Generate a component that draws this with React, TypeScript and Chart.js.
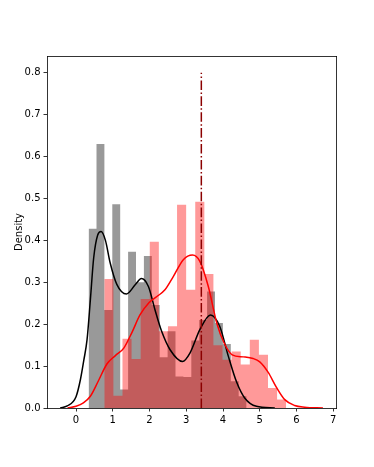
import React, { useEffect, useRef } from 'react';
import { Chart, registerables } from 'chart.js';

Chart.register(...registerables);

// Histogram of the first sample (black, alpha 0.4): bin edges and densities
const grayEdges = [0.342, 0.557, 0.772, 0.987, 1.202, 1.417, 1.632, 1.847, 2.062, 2.277, 2.492, 2.707, 2.922, 3.137, 3.352, 3.567, 3.782, 3.997, 4.212, 4.427, 4.642];
const grayHeights = [0.428, 0.63, 0.234, 0.486, 0.044, 0.373, 0.3, 0.363, 0.246, 0.121, 0.183, 0.075, 0.074, 0.161, 0.21, 0.278, 0.203, 0.153, 0.064, 0.028];

// Histogram of the second sample (red, alpha 0.4)
const redEdges = [0.769, 1.017, 1.264, 1.512, 1.759, 2.007, 2.254, 2.502, 2.749, 2.997, 3.244, 3.492, 3.739, 3.987, 4.234, 4.482, 4.729, 4.977, 5.224, 5.472, 5.719];
const redHeights = [0.308, 0.029, 0.165, 0.117, 0.26, 0.397, 0.183, 0.195, 0.485, 0.282, 0.492, 0.32, 0.15, 0.115, 0.135, 0.104, 0.163, 0.127, 0.048, 0.02];

// KDE curves
const blackKdeX = [-0.43, -0.24, 0, 0.12, 0.21, 0.3, 0.39, 0.48, 0.59, 0.68, 0.8, 0.93, 1.11, 1.37, 1.61, 1.78, 1.97, 2.15, 2.33, 2.56, 2.9, 3.1, 3.37, 3.66, 3.91, 4.14, 4.37, 4.59, 4.91, 5.41];
const blackKdeY = [0, 0.005, 0.027, 0.068, 0.113, 0.163, 0.258, 0.358, 0.413, 0.421, 0.4, 0.346, 0.295, 0.272, 0.294, 0.309, 0.29, 0.234, 0.183, 0.139, 0.111, 0.131, 0.187, 0.222, 0.195, 0.125, 0.062, 0.024, 0.004, 0];

const redKdeX = [-0.23, 0, 0.2, 0.39, 0.61, 0.84, 1.07, 1.3, 1.52, 1.74, 1.99, 2.2, 2.42, 2.65, 2.92, 3.17, 3.37, 3.6, 3.83, 4.03, 4.25, 4.55, 4.82, 5.0, 5.23, 5.45, 5.68, 5.95, 6.22, 6.72];
const redKdeY = [0, 0.004, 0.012, 0.028, 0.065, 0.105, 0.125, 0.143, 0.18, 0.222, 0.252, 0.266, 0.282, 0.314, 0.354, 0.365, 0.35, 0.29, 0.203, 0.155, 0.127, 0.122, 0.118, 0.11, 0.085, 0.05, 0.02, 0.006, 0.002, 0];

// Vertical marker line
const markerX = 3.41;
const markerBottom = 0;
const markerTop = 0.8;

// Axes
const xTicks = [0, 1, 2, 3, 4, 5, 6, 7];
const yTicks = [0, 0.1, 0.2, 0.3, 0.4, 0.5, 0.6, 0.7, 0.8];
const xMin = -0.79;
const xMax = 7.075;
const yMin = 0;
const yMax = 0.84;
const yLabel = 'Density';

function histPoints(edges: number[], heights: number[]) {
  const pts = heights.map((h, i) => ({ x: edges[i], y: h }));
  pts.push({ x: edges[edges.length - 1], y: heights[heights.length - 1] });
  return pts;
}

function zip(xs: number[], ys: number[]) {
  return xs.map((x, i) => ({ x, y: ys[i] }));
}

export default function App() {
  const ref = useRef<HTMLCanvasElement | null>(null);

  useEffect(() => {
    if (!ref.current) return;
    const font = { family: 'DejaVu Sans', size: 10 };
    const chart = new Chart(ref.current, {
      type: 'line',
      data: {
        datasets: [
          {
            label: 'hist1',
            data: histPoints(grayEdges, grayHeights),
            stepped: true,
            fill: 'origin',
            backgroundColor: 'rgba(0,0,0,0.4)',
            borderColor: 'rgba(0,0,0,0)',
            borderWidth: 0,
            pointRadius: 0,
            order: 5,
          },
          {
            label: 'hist2',
            data: histPoints(redEdges, redHeights),
            stepped: true,
            fill: 'origin',
            backgroundColor: 'rgba(255,0,0,0.4)',
            borderColor: 'rgba(0,0,0,0)',
            borderWidth: 0,
            pointRadius: 0,
            order: 4,
          },
          {
            label: 'kde1',
            data: zip(blackKdeX, blackKdeY),
            borderColor: '#000000',
            borderWidth: 1.5,
            pointRadius: 0,
            fill: false,
            cubicInterpolationMode: 'monotone',
            order: 3,
          },
          {
            label: 'kde2',
            data: zip(redKdeX, redKdeY),
            borderColor: '#ff0000',
            borderWidth: 1.5,
            pointRadius: 0,
            fill: false,
            cubicInterpolationMode: 'monotone',
            order: 2,
          },
          {
            label: 'marker',
            data: [
              { x: markerX, y: markerBottom },
              { x: markerX, y: markerTop },
            ],
            borderColor: '#8b0000',
            borderWidth: 1.5,
            borderDash: [9.6, 2.4, 1.5, 2.4],
            pointRadius: 0,
            fill: false,
            order: 1,
          },
        ],
      },
      options: {
        animation: false,
        responsive: false,
        devicePixelRatio: 1,
        events: [],
        layout: { padding: { left: 0, top: 56, right: 38, bottom: 29 } },
        plugins: {
          legend: { display: false },
          tooltip: { enabled: false },
          title: { display: false },
        },
        scales: {
          x: {
            type: 'linear',
            position: 'bottom',
            min: xMin,
            max: xMax,
            afterBuildTicks: (s: any) => {
              s.ticks = xTicks.map((v) => ({ value: v }));
            },
            afterFit: (s: any) => {
              s.height = 30;
            },
            ticks: {
              font,
              color: '#000',
              padding: 3,
              maxRotation: 0,
              autoSkip: false,
              callback: (v: any) => String(v),
            },
            grid: {
              display: true,
              drawOnChartArea: false,
              drawTicks: true,
              tickLength: 3.5,
              color: '#000',
              lineWidth: 0.8,
            },
            border: { display: true, color: '#000', width: 0.8 },
          },
          y: {
            type: 'linear',
            position: 'left',
            min: yMin,
            max: yMax,
            afterBuildTicks: (s: any) => {
              s.ticks = yTicks.map((v) => ({ value: v }));
            },
            afterFit: (s: any) => {
              s.width = 47;
            },
            ticks: {
              font,
              color: '#000',
              padding: 3,
              autoSkip: false,
              callback: (v: any) => Number(v).toFixed(1),
            },
            grid: {
              display: true,
              drawOnChartArea: false,
              drawTicks: true,
              tickLength: 3.5,
              color: '#000',
              lineWidth: 0.8,
            },
            border: { display: true, color: '#000', width: 0.8 },
            title: {
              display: true,
              text: yLabel,
              font,
              color: '#000',
              padding: { top: 13, bottom: 0 },
            },
          },
          x2: {
            type: 'linear',
            position: 'top',
            min: xMin,
            max: xMax,
            afterFit: (s: any) => {
              s.height = 0;
            },
            ticks: { display: false },
            grid: { display: true, drawOnChartArea: false, drawTicks: false },
            border: { display: true, color: '#000', width: 0.8 },
          },
          y2: {
            type: 'linear',
            position: 'right',
            min: yMin,
            max: yMax,
            afterFit: (s: any) => {
              s.width = 0;
            },
            ticks: { display: false },
            grid: { display: true, drawOnChartArea: false, drawTicks: false },
            border: { display: true, color: '#000', width: 0.8 },
          },
        },
      },
    } as any);
    return () => chart.destroy();
  }, []);

  return (
    <div style={{ position: 'absolute', left: 0, top: 0, width: 374, height: 467, background: '#fff' }}>
      <canvas ref={ref} width={374} height={467} style={{ display: 'block', width: 374, height: 467 }} />
    </div>
  );
}
